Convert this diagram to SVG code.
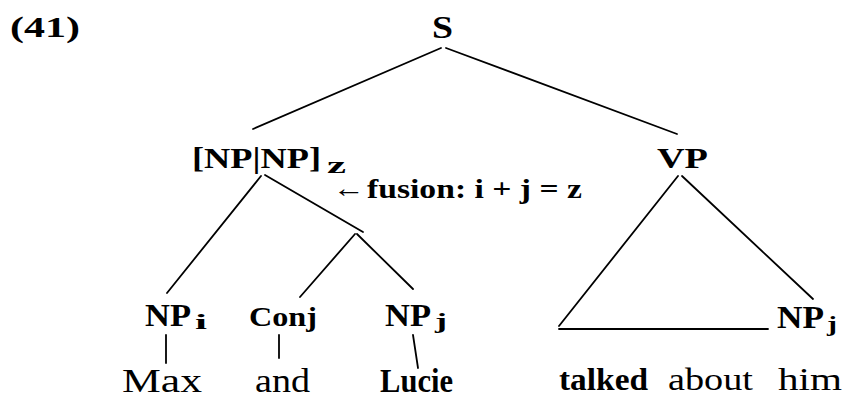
<svg xmlns="http://www.w3.org/2000/svg" width="845" height="398" viewBox="0 0 845 398">
<style>
.b{font-family:"Liberation Serif","Times New Roman",serif;font-weight:bold;fill:#000}
.r{font-family:"Liberation Serif","Times New Roman",serif;font-weight:normal;fill:#000}
.e{stroke:#000;stroke-width:1.8;fill:none;stroke-linecap:round}
</style>
<rect width="845" height="398" fill="#fff"/>
<g id="label41"><text class="b" x="10" y="37" font-size="30" textLength="70" lengthAdjust="spacingAndGlyphs">(41)</text></g>
<g id="node-S"><text class="b" x="432" y="38" font-size="32" textLength="21" lengthAdjust="spacingAndGlyphs">S</text></g>
<g id="node-NPNP">
<text class="b" x="192" y="168" font-size="30" textLength="129" lengthAdjust="spacingAndGlyphs">[NP|NP]</text>
<text class="b" x="327" y="173" font-size="24" textLength="19" lengthAdjust="spacingAndGlyphs">z</text>
</g>
<g id="node-VP"><text class="b" x="657" y="168" font-size="30" textLength="51" lengthAdjust="spacingAndGlyphs">VP</text></g>
<g id="note-fusion">
<text class="r" x="333" y="197" font-size="26" textLength="32" lengthAdjust="spacingAndGlyphs">←</text>
<text class="b" x="367" y="198" font-size="28" textLength="215" lengthAdjust="spacingAndGlyphs">fusion: i + j = z</text>
</g>
<g id="node-NPi">
<text class="b" x="145" y="326" font-size="32" textLength="46" lengthAdjust="spacingAndGlyphs">NP</text>
<text class="b" x="195" y="329" font-size="22" textLength="12" lengthAdjust="spacingAndGlyphs">i</text>
</g>
<g id="node-Conj"><text class="b" x="249" y="326" font-size="27" textLength="68" lengthAdjust="spacingAndGlyphs">Conj</text></g>
<g id="node-NPj1">
<text class="b" x="385" y="326" font-size="32" textLength="46" lengthAdjust="spacingAndGlyphs">NP</text>
<text class="b" x="435" y="328" font-size="22" textLength="12" lengthAdjust="spacingAndGlyphs">j</text>
</g>
<g id="node-NPj2">
<text class="b" x="777" y="328" font-size="32" textLength="47" lengthAdjust="spacingAndGlyphs">NP</text>
<text class="b" x="827" y="331" font-size="22" textLength="10" lengthAdjust="spacingAndGlyphs">j</text>
</g>
<g id="word-Max"><text class="r" x="122" y="392" font-size="34" textLength="80" lengthAdjust="spacingAndGlyphs">Max</text></g>
<g id="word-and"><text class="r" x="255" y="392" font-size="33" textLength="55" lengthAdjust="spacingAndGlyphs">and</text></g>
<g id="word-Lucie"><text class="b" x="380" y="392" font-size="33" textLength="73" lengthAdjust="spacingAndGlyphs">Lucie</text></g>
<g id="word-talked"><text class="b" x="559" y="390" font-size="32" textLength="89" lengthAdjust="spacingAndGlyphs">talked</text></g>
<g id="word-about"><text class="r" x="668" y="390" font-size="32" textLength="85" lengthAdjust="spacingAndGlyphs">about</text></g>
<g id="word-him"><text class="r" x="778" y="390" font-size="32" textLength="64" lengthAdjust="spacingAndGlyphs">him</text></g>
<g id="connectors">
<line class="e" x1="441" y1="48" x2="253" y2="129"/>
<line class="e" x1="446" y1="48" x2="677" y2="134"/>
<line class="e" x1="261" y1="176" x2="167" y2="293"/>
<line class="e" x1="265" y1="175" x2="363" y2="232"/>
<line class="e" x1="355" y1="234" x2="300" y2="297"/>
<line class="e" x1="357" y1="234" x2="413" y2="289"/>
<line class="e" x1="678" y1="176" x2="559" y2="326"/>
<line class="e" x1="682" y1="176" x2="813" y2="299"/>
<line class="e" x1="559" y1="329" x2="768" y2="329"/>
<line class="e" x1="166" y1="335" x2="166" y2="363"/>
<line class="e" x1="279" y1="335" x2="279" y2="358"/>
<line class="e" x1="413" y1="335" x2="418" y2="368"/>
</g>
</svg>
